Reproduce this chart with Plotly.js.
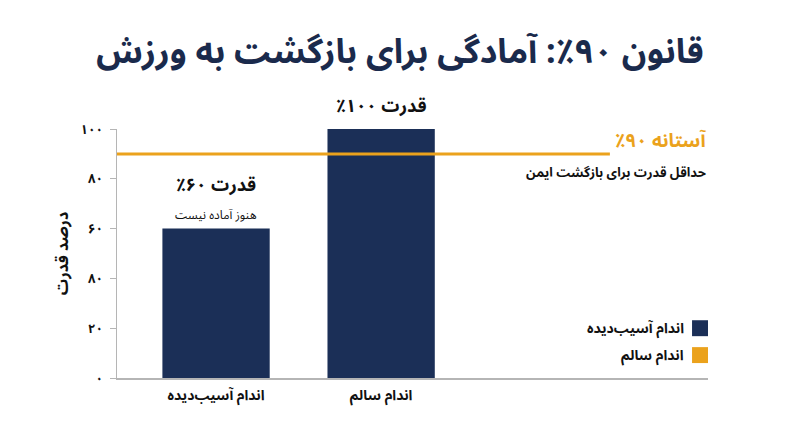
<!DOCTYPE html>
<html>
<head>
<meta charset="utf-8">
<script src="https://cdn.plot.ly/plotly-3.0.1.min.js"></script>
<style>
  html, body { margin: 0; padding: 0; background: #ffffff; }
  #chart { width: 800px; height: 447px; }
</style>
</head>
<body>
<div id="chart"></div>
<script>
var categories = ['اندام آسیب‌دیده', 'اندام سالم'];
var strength = [60, 100];
var barLabels = ['قدرت ۶۰٪', 'قدرت ۱۰۰٪'];
var barNotes = ['هنوز آماده نیست', ''];
var threshold = 90;
var thresholdLabel = 'آستانه ۹۰٪';
var thresholdNote = 'حداقل قدرت برای بازگشت ایمن';
var yTicks = [0, 20, 40, 60, 80, 100];
var yTickText = ['۰', '۲۰', '۸۰', '۶۰', '۸۰', '۱۰۰'];
var legendLabels = ['اندام آسیب‌دیده', 'اندام سالم'];
var legendColors = ['#1b2f57', '#eba21c'];

var NAVY = '#1b2f57';
var ORANGE = '#eba21c';
var FONT = 'Noto Sans Arabic, DejaVu Sans, sans-serif';

// trailing RLM keeps the ٪ sign on the left of the number
function rtl(s) { return s + '\u200F'; }

var trace = {
    x: categories,
    y: strength,
    type: 'bar',
    width: 0.65,
    marker: { color: NAVY },
    hoverinfo: 'skip',
    showlegend: false
};

var annotations = [];
for (var i = 0; i < categories.length; i++) {
    annotations.push({
        x: categories[i], y: strength[i], xref: 'x', yref: 'y',
        text: '<b>' + rtl(barLabels[i]) + '</b>',
        showarrow: false, yanchor: 'bottom',
        yshift: barNotes[i] ? 23 : 2,
        font: { family: FONT, size: 18, color: '#111111' }
    });
    if (barNotes[i]) {
        annotations.push({
            x: categories[i], y: strength[i], xref: 'x', yref: 'y',
            text: rtl(barNotes[i]),
            showarrow: false, yanchor: 'bottom', yshift: -1,
            font: { family: FONT, size: 12, color: '#111111' }
        });
    }
}
annotations.push({
    x: 1, y: threshold, xref: 'paper', yref: 'y',
    xanchor: 'right', yanchor: 'bottom', yshift: -9,
    text: '<b>' + rtl(thresholdLabel) + '</b>', showarrow: false,
    font: { family: FONT, size: 19, color: ORANGE }
});
annotations.push({
    x: 1, y: threshold, xref: 'paper', yref: 'y',
    xanchor: 'right', yanchor: 'top', yshift: -3,
    text: '<b>' + rtl(thresholdNote) + '</b>', showarrow: false,
    font: { family: FONT, size: 13, color: '#111111' }
});

var shapes = [{
    type: 'line', xref: 'paper', yref: 'y',
    x0: 0, x1: 0.834, y0: threshold, y1: threshold,
    line: { color: ORANGE, width: 3 }
}];

for (var j = 0; j < legendLabels.length; j++) {
    var yc = 0.2 - j * 0.108;
    shapes.push({
        type: 'rect', xref: 'paper', yref: 'paper',
        x0: 0.973, x1: 1.0, y0: yc - 0.032, y1: yc + 0.032,
        fillcolor: legendColors[j], line: { width: 0 }
    });
    annotations.push({
        x: 0.962, y: yc, xref: 'paper', yref: 'paper',
        xanchor: 'right', yanchor: 'middle',
        text: '<b>' + rtl(legendLabels[j]) + '</b>', showarrow: false,
        font: { family: FONT, size: 14, color: '#111111' }
    });
}

var layout = {
    width: 800,
    height: 447,
    paper_bgcolor: '#ffffff',
    plot_bgcolor: '#ffffff',
    margin: { l: 117, r: 92, t: 129, b: 69 },
    title: {
        text: '<b>' + rtl('قانون ۹۰٪: آمادگی برای بازگشت به ورزش') + '</b>',
        x: 0.5, xanchor: 'center',
        y: 0.885, yanchor: 'middle',
        font: { family: FONT, size: 34, color: '#1a2a4c' }
    },
    xaxis: {
        type: 'category',
        range: [-0.6, 2.98],
        tickvals: categories,
        ticktext: categories.map(function (c) { return '<b>' + rtl(c) + '</b>'; }),
        showline: true, linecolor: '#b5b5b5', linewidth: 1.5,
        ticks: '', showgrid: false, zeroline: false,
        tickfont: { family: FONT, size: 14, color: '#111111' },
        ticklabelstandoff: 4
    },
    yaxis: {
        range: [0, 100],
        tickvals: yTicks,
        ticktext: yTickText.map(function (t) { return '<b>' + t + '</b>'; }),
        showline: true, linecolor: '#b5b5b5', linewidth: 1.5,
        ticks: 'outside', ticklen: 6, tickcolor: '#b5b5b5',
        showgrid: false, zeroline: false,
        tickfont: { family: FONT, size: 13, color: '#111111' },
        ticklabelstandoff: 4,
        title: {
            text: '<b>' + rtl('درصد قدرت') + '</b>', standoff: 8,
            font: { family: FONT, size: 16, color: '#111111' }
        }
    },
    shapes: shapes,
    annotations: annotations,
    showlegend: false
};

Plotly.newPlot('chart', [trace], layout, { staticPlot: true });
</script>
</body>
</html>
